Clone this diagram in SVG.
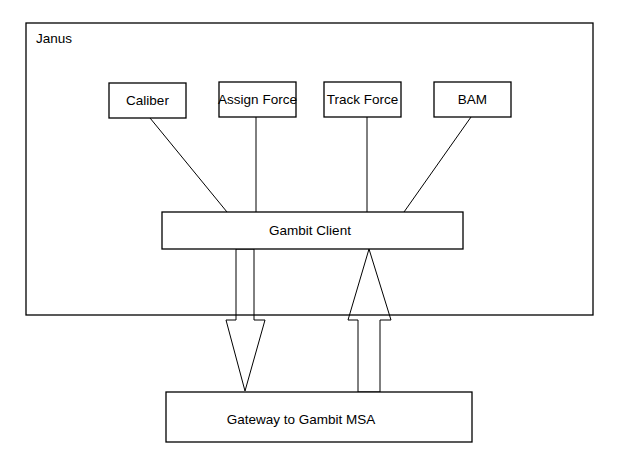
<svg xmlns="http://www.w3.org/2000/svg" width="619" height="459" viewBox="0 0 619 459">
<style>
.b{fill:#fff;stroke:#000;stroke-width:1.3}
.c{fill:none;stroke:#000;stroke-width:1}
text{font-family:"Liberation Sans",Arial,sans-serif;font-size:13.5px;fill:#000}
</style>
<rect width="619" height="459" fill="#fff"/>
<g id="janus"><rect x="26" y="23" width="567" height="292" fill="none" stroke="#000" stroke-width="1.3"/><text x="36" y="43">Janus</text></g>
<g id="connectors">
<line class="c" x1="150" y1="118" x2="227" y2="212"/>
<line class="c" x1="256" y1="117" x2="256" y2="212"/>
<line class="c" x1="367" y1="117" x2="367" y2="212"/>
<line class="c" x1="471" y1="117" x2="404" y2="212"/>
<polygon class="c" points="236,249 254,249 254,320 265,320 245,391 226,320 236,320"/>
<polygon class="c" points="369,249 391,320 380,320 380,392 358,392 358,320 348,320"/>
</g>
<g id="caliber"><rect class="b" x="109" y="83" width="77" height="35"/><text x="147.5" y="105" text-anchor="middle">Caliber</text></g>
<g id="assign"><rect class="b" x="219" y="82" width="77" height="35"/><text x="257.5" y="104" text-anchor="middle">Assign Force</text></g>
<g id="track"><rect class="b" x="324" y="82" width="77" height="35"/><text x="362.5" y="104" text-anchor="middle">Track Force</text></g>
<g id="bam"><rect class="b" x="434" y="82" width="77" height="35"/><text x="472.5" y="104" text-anchor="middle">BAM</text></g>
<g id="gambit"><rect class="b" x="162" y="212" width="301" height="37"/><text x="310" y="235" text-anchor="middle">Gambit Client</text></g>
<g id="gateway"><rect class="b" x="166" y="392" width="306" height="50"/><text x="301" y="424" text-anchor="middle">Gateway to Gambit MSA</text></g>
</svg>
